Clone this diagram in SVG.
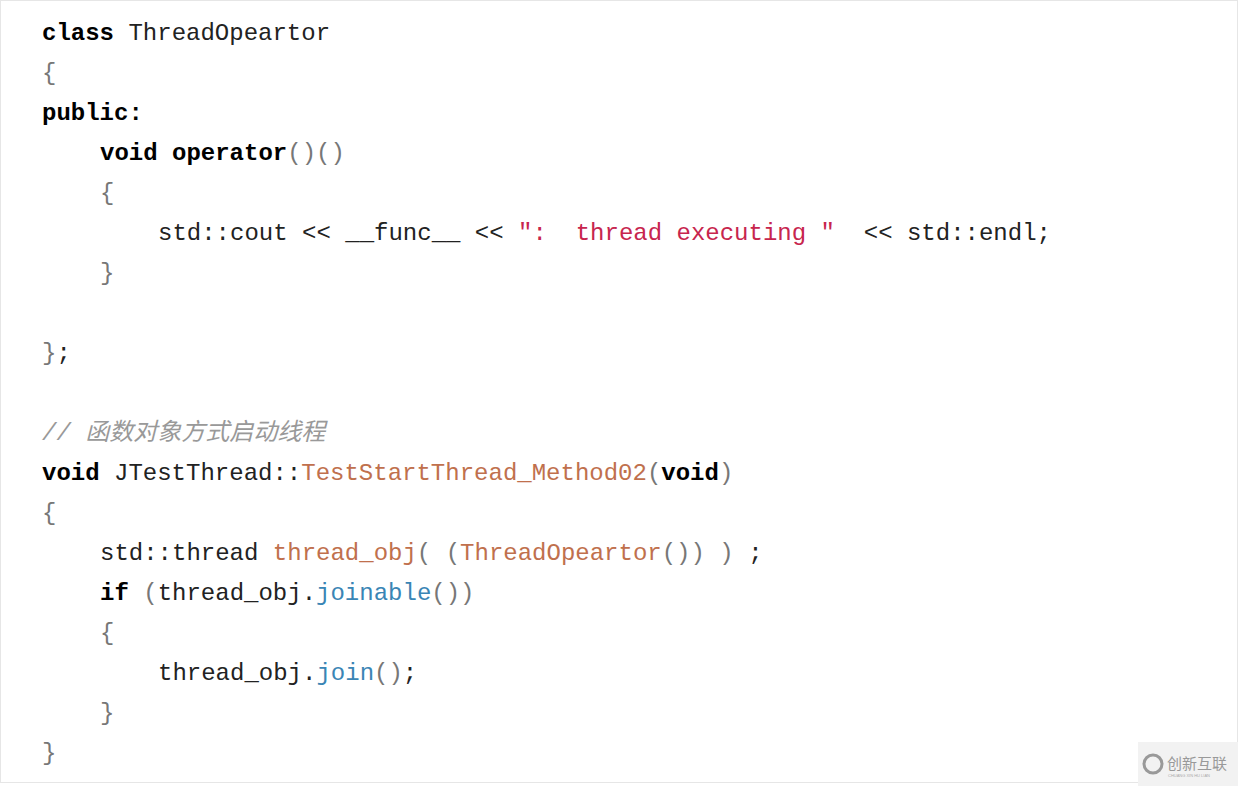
<svg xmlns="http://www.w3.org/2000/svg" width="1238" height="786" viewBox="0 0 1238 786">
<style>
text{font-family:"Liberation Mono","DejaVu Sans Mono",monospace;font-size:24px;fill:#222;white-space:pre}
.k{font-weight:bold;fill:#000}
.p{fill:#777}
.s{fill:#c7254e}
.f{fill:#c0704d}
.m{fill:#3a85b5}
.c{fill:#999;font-style:italic;font-family:"Liberation Mono","Noto Sans CJK SC",monospace}
</style>
<rect x="0" y="0" width="1238" height="786" fill="#fff"/>
<rect x="0.5" y="0.5" width="1237" height="782" fill="none" stroke="#e6e6e6"/>
<g id="code" xml:space="preserve">
<text x="42" y="40"><tspan class="k">class</tspan> ThreadOpeartor</text>
<text x="42" y="80" class="p">{</text>
<text x="42" y="120" class="k">public:</text>
<text x="100" y="160"><tspan class="k">void operator</tspan><tspan class="p">()()</tspan></text>
<text x="100" y="200" class="p">{</text>
<text x="158" y="240">std::cout &lt;&lt; __func__ &lt;&lt; <tspan class="s">":  thread executing "</tspan>  &lt;&lt; std::endl;</text>
<text x="100" y="280" class="p">}</text>
<text x="42" y="360"><tspan class="p">}</tspan>;</text>
<text x="42" y="440" class="c">// 函数对象方式启动线程</text>
<text x="42" y="480"><tspan class="k">void</tspan> JTestThread::<tspan class="f">TestStartThread_Method02</tspan><tspan class="p">(</tspan><tspan class="k">void</tspan><tspan class="p">)</tspan></text>
<text x="42" y="520" class="p">{</text>
<text x="100" y="560">std::thread <tspan class="f">thread_obj</tspan><tspan class="p">( (</tspan><tspan class="f">ThreadOpeartor</tspan><tspan class="p">()) ) </tspan>;</text>
<text x="100" y="600"><tspan class="k">if</tspan><tspan class="p"> (</tspan>thread_obj.<tspan class="m">joinable</tspan><tspan class="p">())</tspan></text>
<text x="100" y="640" class="p">{</text>
<text x="158" y="680">thread_obj.<tspan class="m">join</tspan><tspan class="p">()</tspan>;</text>
<text x="100" y="720" class="p">}</text>
<text x="42" y="760" class="p">}</text>
</g>
<g id="watermark">
<rect x="1138" y="742" width="100" height="44" fill="#f2f2f2"/>
<circle cx="1153" cy="764" r="9" fill="none" stroke="#999" stroke-width="3"/>
<text x="1167" y="769" style="font-family:'Noto Sans CJK SC',sans-serif;font-size:15px;fill:#999">创新互联</text>
<text x="1168" y="777" style="font-family:'Liberation Sans',sans-serif;font-size:4px;fill:#aaa">CHUANG XIN HU LIAN</text>
</g>
</svg>
